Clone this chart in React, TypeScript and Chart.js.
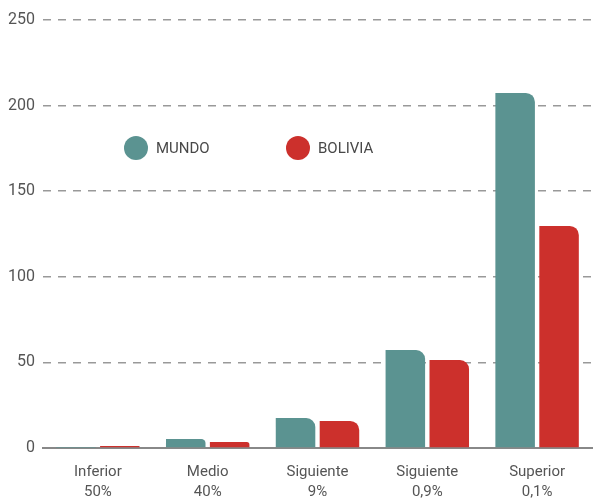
import React, { useEffect, useRef } from "react";
import { Chart, registerables } from "chart.js";

Chart.register(...registerables);

const categories: string[][] = [
  ["Inferior", "50%"],
  ["Medio", "40%"],
  ["Siguiente", "9%"],
  ["Siguiente", "0,9%"],
  ["Superior", "0,1%"],
];
const seriesNames = ["MUNDO", "BOLIVIA"];
const mundo = [0.2, 5.3, 17.5, 57.2, 207.4];
const bolivia = [1.2, 3.5, 15.8, 51.4, 129.7];
const yTicks = [0, 50, 100, 150, 200, 250];

const TEAL = "#5b9391";
const RED = "#cc302c";
const FONT = "Roboto";

const legendPlugin = {
  id: "customLegend",
  afterDraw(chart: any) {
    const { ctx, chartArea } = chart;
    const items = [
      { label: seriesNames[0], color: TEAL, x: chartArea.left + 93 },
      { label: seriesNames[1], color: RED, x: chartArea.left + 255 },
    ];
    const y = chartArea.top + 128;
    ctx.save();
    items.forEach((it) => {
      ctx.beginPath();
      ctx.fillStyle = it.color;
      ctx.arc(it.x, y, 12, 0, Math.PI * 2);
      ctx.fill();
      ctx.fillStyle = "#484848";
      ctx.font = `15px ${FONT}`;
      ctx.textBaseline = "middle";
      ctx.textAlign = "left";
      ctx.fillText(it.label, it.x + 20, y + 1);
    });
    ctx.restore();
  },
};

export default function App() {
  const ref = useRef<HTMLCanvasElement>(null);
  useEffect(() => {
    document.body.style.margin = "0";
    const chart = new Chart(ref.current!, {
      type: "bar",
      data: {
        labels: categories,
        datasets: [
          {
            label: seriesNames[0],
            data: mundo,
            backgroundColor: TEAL,
            borderRadius: { topRight: 9, topLeft: 0, bottomLeft: 0, bottomRight: 0 },
            borderSkipped: false,
            categoryPercentage: 0.8,
            barPercentage: 0.9,
          },
          {
            label: seriesNames[1],
            data: bolivia,
            backgroundColor: RED,
            borderRadius: { topRight: 9, topLeft: 0, bottomLeft: 0, bottomRight: 0 },
            borderSkipped: false,
            categoryPercentage: 0.8,
            barPercentage: 0.9,
          },
        ],
      },
      options: {
        animation: false,
        responsive: true,
        maintainAspectRatio: false,
        layout: { padding: { left: 0, right: 1, top: 20, bottom: 0 } },
        plugins: {
          legend: { display: false },
          tooltip: { enabled: false },
        },
        scales: {
          x: {
            grid: { display: false },
            border: { display: true, color: "#888", width: 2 },
            ticks: {
              color: "#555",
              font: { family: FONT, size: 15, lineHeight: 1.35 },
              padding: 6,
              maxRotation: 0,
            },
            afterFit(scale: any) {
              scale.height = 52;
            },
          },
          y: {
            min: 0,
            max: 250,
            afterBuildTicks(scale: any) {
              scale.ticks = yTicks.map((v) => ({ value: v }));
            },
            grid: {
              color: (c: any) => (c.tick && c.tick.value === 0 ? "rgba(0,0,0,0)" : "#999"),
              lineWidth: 1.5,
              drawTicks: false,
            },
            border: { display: false, dash: [8, 7] },
            ticks: {
              color: "#555",
              font: { family: FONT, size: 16 },
              padding: 8,
            },
            afterFit(scale: any) {
              scale.width = 43;
            },
          },
        },
      },
      plugins: [legendPlugin],
    });
    return () => chart.destroy();
  }, []);
  return (
    <div style={{ position: "absolute", left: 0, top: 0, width: 593, height: 500 }}>
      <canvas ref={ref} />
    </div>
  );
}
